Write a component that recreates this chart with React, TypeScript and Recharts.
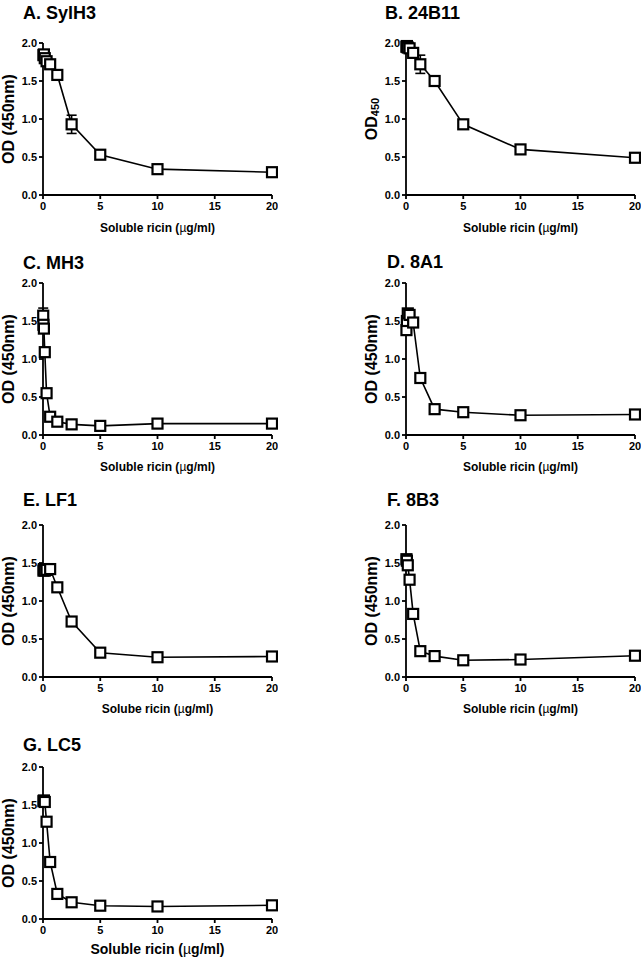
import React from "react";
import { LineChart, Line, XAxis, YAxis, ErrorBar, Label } from "recharts";

// concentrations (µg/ml), two-fold dilutions
const conc = [0.039, 0.078, 0.156, 0.3125, 0.625, 1.25, 2.5, 5, 10, 20];
const concC = [0.0195, 0.039, 0.078, 0.156, 0.3125, 0.625, 1.25, 2.5, 5, 10, 20];

// OD readings per antibody
const odA = [1.84, 1.85, 1.8, 1.76, 1.72, 1.58, 0.93, 0.53, 0.34, 0.3];
const errA = [0.04, 0.04, 0.04, 0.03, 0.03, 0.03, 0.12, 0.03, 0.03, 0.05];
const odB = [1.95, 1.96, 1.94, 1.93, 1.87, 1.72, 1.5, 0.93, 0.6, 0.49];
const errB = [0.03, 0.03, 0.03, 0.03, 0.04, 0.12, 0.02, 0.02, 0.02, 0.02];
const odC = [1.57, 1.45, 1.4, 1.09, 0.55, 0.24, 0.175, 0.14, 0.12, 0.15, 0.15];
const errC = [0.1, 0.03, 0.03, 0.02, 0.02, 0.02, 0.02, 0.02, 0.02, 0.02, 0.02];
const odD = [1.38, 1.5, 1.6, 1.58, 1.48, 0.75, 0.34, 0.3, 0.26, 0.27];
const errD = [0.03, 0.03, 0.03, 0.03, 0.03, 0.02, 0.02, 0.02, 0.02, 0.02];
const odE = [1.4, 1.42, 1.4, 1.41, 1.42, 1.18, 0.73, 0.32, 0.26, 0.27];
const errE = [0.03, 0.03, 0.03, 0.03, 0.02, 0.03, 0.02, 0.02, 0.02, 0.02];
const odF = [1.55, 1.53, 1.47, 1.28, 0.83, 0.34, 0.275, 0.22, 0.23, 0.28];
const errF = [0.03, 0.03, 0.03, 0.02, 0.02, 0.02, 0.02, 0.02, 0.02, 0.02];
const odG = [1.55, 1.56, 1.54, 1.28, 0.75, 0.33, 0.22, 0.175, 0.165, 0.18];
const errG = [0.03, 0.03, 0.03, 0.02, 0.02, 0.02, 0.02, 0.02, 0.02, 0.02];

const xTicks = [0, 5, 10, 15, 20];
const yTicks = [0, 0.5, 1, 1.5, 2];

const FONT = "'Liberation Sans', Arial, sans-serif";

type Panel = {
  title: string;
  x: number[];
  y: number[];
  err: number[];
  plotLeft: number;
  plotTop: number;
  titleX: number;
  titleY: number;
  sub?: boolean;
  xLabel: string;
  xLabelSize: number;
  xLabelDy: number;
};

const panels: Panel[] = [
  { title: "A. SylH3", x: conc, y: odA, err: errA, plotLeft: 43, plotTop: 43, titleX: 23, titleY: 13, xLabel: "Soluble ricin", xLabelSize: 12, xLabelDy: 33 },
  { title: "B. 24B11", x: conc, y: odB, err: errB, plotLeft: 406, plotTop: 43, titleX: 385, titleY: 13, sub: true, xLabel: "Soluble ricin", xLabelSize: 12, xLabelDy: 33 },
  { title: "C. MH3", x: concC, y: odC, err: errC, plotLeft: 43, plotTop: 283, titleX: 23, titleY: 263, xLabel: "Soluble ricin", xLabelSize: 12, xLabelDy: 32 },
  { title: "D. 8A1", x: conc, y: odD, err: errD, plotLeft: 406, plotTop: 283, titleX: 387, titleY: 262, xLabel: "Soluble ricin", xLabelSize: 12, xLabelDy: 32 },
  { title: "E. LF1", x: conc, y: odE, err: errE, plotLeft: 43, plotTop: 525, titleX: 23, titleY: 500, xLabel: "Solube ricin", xLabelSize: 12, xLabelDy: 32 },
  { title: "F. 8B3", x: conc, y: odF, err: errF, plotLeft: 406, plotTop: 525, titleX: 387, titleY: 500, xLabel: "Soluble ricin", xLabelSize: 12, xLabelDy: 32 },
  { title: "G. LC5", x: conc, y: odG, err: errG, plotLeft: 43, plotTop: 767, titleX: 23, titleY: 745, xLabel: "Soluble ricin", xLabelSize: 14, xLabelDy: 30 },
];

// open square marker
const Square = (props: any) => {
  const { cx, cy, index } = props;
  if (cx == null || cy == null) return <g key={index} />;
  return (
    <rect key={index} x={cx - 5} y={cy - 5} width={10} height={10}
      fill="#fff" stroke="#000" strokeWidth={2.2} />
  );
};

function MiniChart({ p }: { p: Panel }) {
  const data = p.x.map((c, i) => ({ conc: c, od: p.y[i], err: p.err[i] }));
  const axisStyle = { stroke: "#000", strokeWidth: 1.8 };
  const tickStyle = { fill: "#000", fontSize: 11, fontWeight: "bold", fontFamily: FONT };
  const left = p.plotLeft - 43;
  const top = p.plotTop - 43;

  const yLabel = (props: any) => {
    const vb = props.viewBox;
    const cx = 8;
    const cy = vb.y + vb.height / 2;
    return (
      <text x={cx} y={cy} transform={`rotate(-90 ${cx} ${cy})`} textAnchor="middle"
        dominantBaseline="central" fontSize={16} fontWeight="bold" fill="#000" fontFamily={FONT}>
        {p.sub ? (
          <>
            <tspan>OD</tspan>
            <tspan fontSize={11} dy={4}>450</tspan>
          </>
        ) : "OD (450nm)"}
      </text>
    );
  };

  const xLabel = (props: any) => {
    const vb = props.viewBox;
    return (
      <text x={vb.x + vb.width / 2} y={vb.y + p.xLabelDy} textAnchor="middle"
        dominantBaseline="central" fontSize={p.xLabelSize} fontWeight="bold" fill="#000" fontFamily={FONT}>
        {p.xLabel} (<tspan fontWeight="normal">µ</tspan>g/ml)
      </text>
    );
  };

  return (
    <div style={{ position: "absolute", left, top }}>
      <LineChart width={278} height={245} data={data} style={{ overflow: "visible" }}
        margin={{ top: 43, right: 6, left: 13, bottom: 20 }}>
        <XAxis type="number" dataKey="conc" domain={[0, 20]} ticks={xTicks} interval={0}
          axisLine={axisStyle} tickLine={axisStyle} tickSize={4} tickMargin={3}
          tick={tickStyle} height={30}>
          <Label content={xLabel} />
        </XAxis>
        <YAxis type="number" domain={[0, 2]} ticks={yTicks} width={30} interval={0}
          tickFormatter={(v: number) => v.toFixed(1)}
          axisLine={axisStyle} tickLine={axisStyle} tickSize={4} tickMargin={2}
          tick={tickStyle}>
          <Label content={yLabel} />
        </YAxis>
        <Line type="linear" dataKey="od" stroke="#000" strokeWidth={1.6}
          dot={Square} activeDot={false} isAnimationActive={false}>
          <ErrorBar dataKey="err" direction="y" width={5} stroke="#000" strokeWidth={1.6} />
        </Line>
      </LineChart>
      <div style={{
        position: "absolute", left: p.titleX - left, top: p.titleY - top - 11,
        fontSize: 18, fontWeight: "bold", fontFamily: FONT, lineHeight: "22px", whiteSpace: "nowrap",
      }}>
        {p.title}
      </div>
    </div>
  );
}

export default function App() {
  return (
    <div style={{ position: "absolute", left: 0, top: 0, width: 643, height: 960, background: "#fff" }}>
      {panels.map((p) => (
        <MiniChart key={p.title} p={p} />
      ))}
    </div>
  );
}
